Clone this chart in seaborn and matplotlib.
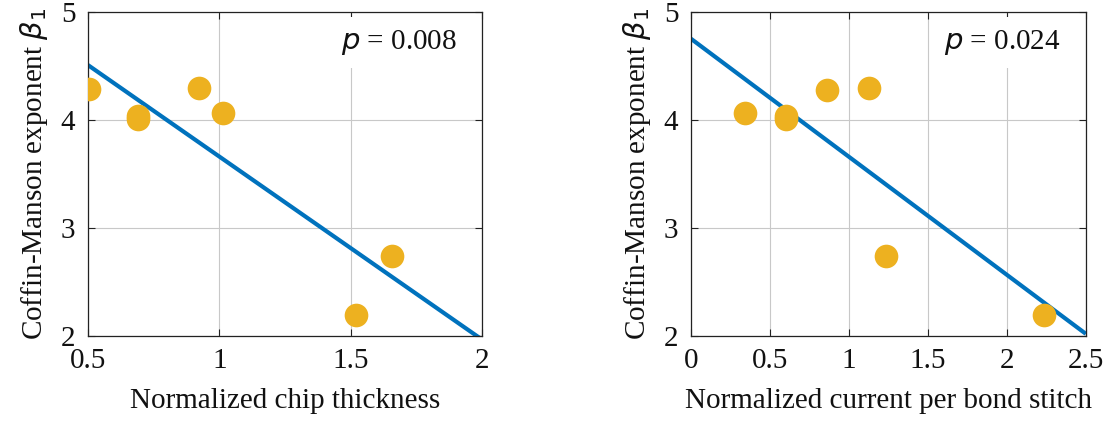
import numpy as np
import pandas as pd
import matplotlib
matplotlib.use("Agg")
import matplotlib.pyplot as plt
import seaborn as sns

# ---- data ----
chip_thickness = [0.505, 0.69, 0.69, 0.921, 1.014, 1.52, 1.658]
beta_left = [4.284, 4.04, 4.01, 4.30, 4.068, 2.194, 2.744]
current_per_stitch = [0.34, 0.60, 0.60, 0.859, 1.125, 1.232, 2.234]
beta_right = [4.068, 4.04, 4.01, 4.278, 4.30, 2.744, 2.194]
p_values = ["0.008", "0.024"]
xlabels = ["Normalized chip thickness", "Normalized current per bond stitch"]
ylabel = r"Coffin-Manson exponent $\beta_1$"
xticks_left = [0.5, 1, 1.5, 2]
xticklabels_left = ["0.5", "1", "1.5", "2"]
xticks_right = [0, 0.5, 1, 1.5, 2, 2.5]
xticklabels_right = ["0", "0.5", "1", "1.5", "2", "2.5"]
yticks = [2, 3, 4, 5]
yticklabels = ["2", "3", "4", "5"]

YELLOW = "#EDB120"
BLUE = "#0072BD"

sns.set_theme(style="ticks")
plt.rcParams['font.family'] = ['Liberation Serif', 'DejaVu Serif']
plt.rcParams['mathtext.fontset'] = 'dejavusans'

fig = plt.figure(figsize=(11.08, 4.21), dpi=100)
ax1 = fig.add_axes([0.0794, 0.202, 0.3556, 0.769])
ax2 = fig.add_axes([0.6236, 0.202, 0.3564, 0.769])

configs = [
    (ax1, chip_thickness, beta_left, (0.5, 2), xticks_left, xticklabels_left, xlabels[0], p_values[0]),
    (ax2, current_per_stitch, beta_right, (0, 2.5), xticks_right, xticklabels_right, xlabels[1], p_values[1]),
]

for ax, xs, ys, xlim, xt, xtl, xl, pv in configs:
    df = pd.DataFrame({"x": xs, "y": ys})
    ax.set_xlim(*xlim)
    ax.set_ylim(2, 5)
    sns.regplot(data=df, x="x", y="y", ax=ax, ci=None, truncate=False,
                scatter_kws=dict(s=290, color=YELLOW, alpha=1, linewidths=0, zorder=3),
                line_kws=dict(color=BLUE, lw=3, zorder=2, solid_capstyle='butt'))
    ax.set_xlim(*xlim)
    ax.set_ylim(2, 5)
    ax.set_xticks(xt)
    ax.set_xticklabels(xtl)
    ax.set_yticks(yticks)
    ax.set_yticklabels(yticklabels)
    ax.grid(True, color="#c8c8c8", lw=0.8)
    ax.set_axisbelow(True)
    ax.tick_params(direction='in', top=True, right=True, length=5, width=0.8,
                   labelsize=21, pad=9, colors='#222222', labelcolor='#111111')
    for s in ax.spines.values():
        s.set_color('#222222')
        s.set_linewidth(0.9)
    ax.set_xlabel(xl, fontsize=21, labelpad=10, color='#111111')
    ax.set_ylabel(ylabel, fontsize=21, labelpad=8, color='#111111')
    ax.text(0.937, 0.907, r"$p$ = " + pv, transform=ax.transAxes, ha='right', va='center',
            fontsize=21, color='#111111', zorder=5,
            bbox=dict(fc='white', ec='none', pad=8))

fig.savefig("out.png", dpi=100)
